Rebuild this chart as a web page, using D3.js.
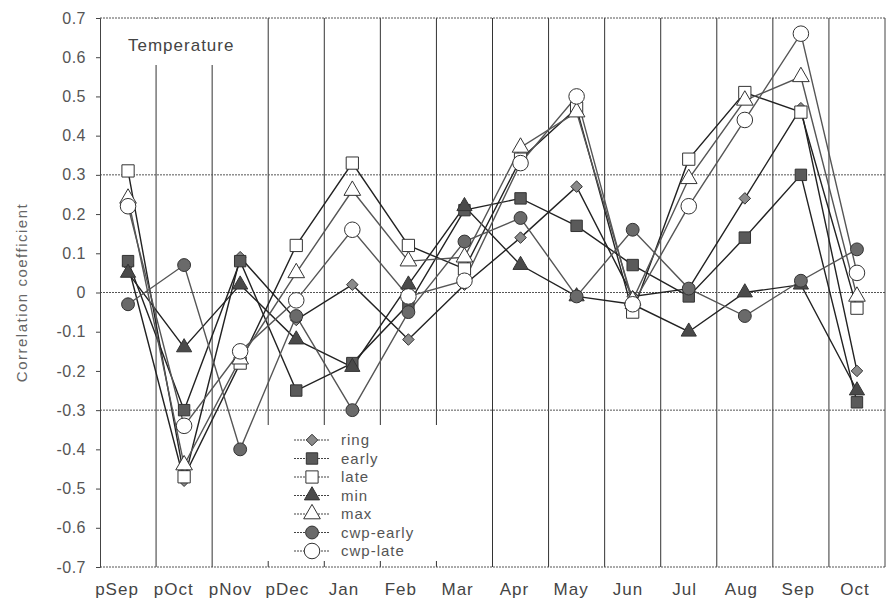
<!DOCTYPE html>
<html>
<head>
<meta charset="utf-8">
<script src="https://d3js.org/d3.v7.min.js"></script>
<style>
  body { margin: 0; background: #fff; }
  text { font-family: "Liberation Sans", Arial, sans-serif; }
</style>
</head>
<body>
<div id="chart"></div>
<script>

const months = ["pSep","pOct","pNov","pDec","Jan","Feb","Mar","Apr","May","Jun","Jul","Aug","Sep","Oct"];

const ring     = [0.07,-0.48, 0.09,-0.07, 0.02,-0.12, 0.02, 0.14, 0.27,-0.01, 0.01, 0.24, 0.47,-0.20];
const early    = [0.08,-0.30, 0.08,-0.25,-0.18,-0.03, 0.21, 0.24, 0.17, 0.07,-0.01, 0.14, 0.30,-0.28];
const late     = [0.31,-0.47,-0.18, 0.12, 0.33, 0.12, 0.06, 0.34, 0.47,-0.05, 0.34, 0.51, 0.46,-0.04];
const tmin     = [0.05,-0.14, 0.02,-0.12,-0.19, 0.02, 0.22, 0.07,-0.01,-0.03,-0.10, 0.00, 0.02,-0.25];
const tmax     = [0.24,-0.44,-0.17, 0.05, 0.26, 0.08, 0.09, 0.37, 0.46,-0.02, 0.29, 0.49, 0.55,-0.01];
const cwpEarly = [-0.03,0.07,-0.40,-0.06,-0.30,-0.05, 0.13, 0.19,-0.01, 0.16, 0.01,-0.06, 0.03, 0.11];
const cwpLate  = [0.22,-0.34,-0.15,-0.02, 0.16,-0.01, 0.03, 0.33, 0.50,-0.03, 0.22, 0.44, 0.66, 0.05];

const seriesNames = ["ring","early","late","min","max","cwp-early","cwp-late"];
const yTicks = d3.range(-7, 8).map(d => d / 10);
const gridValues = [-0.3, 0, 0.3];

// marker look for each series
const styles = {
  "ring":      {sym: d3.symbolDiamond2, size: 85,  fill: "#8a8a8a"},
  "early":     {sym: d3.symbolSquare,   size: 130, fill: "#5a5a5a"},
  "late":      {sym: d3.symbolSquare,   size: 150, fill: "#fff"},
  "min":       {sym: d3.symbolTriangle, size: 100, fill: "#4a4a4a"},
  "max":       {sym: d3.symbolTriangle, size: 120, fill: "#fff"},
  "cwp-early": {sym: d3.symbolCircle,   size: 130, fill: "#6a6a6a"},
  "cwp-late":  {sym: d3.symbolCircle,   size: 190, fill: "#fff"}
};

const series = [ring, early, late, tmin, tmax, cwpEarly, cwpLate].map((vals, i) => ({
  name: seriesNames[i],
  values: vals.map((v, j) => ({m: months[j], v: v}))
}));

const w = 886, h = 604;
const pLeft = 100, pRight = 885, pTop = 18, pBottom = 567;

const svg = d3.select("#chart").append("svg")
  .attr("width", w)
  .attr("height", h);

const x = d3.scaleBand().domain(months).range([pLeft, pRight]).padding(0);
const y = d3.scaleLinear().domain([-0.7, 0.7]).range([pBottom, pTop]);
const xLabel = d3.scalePoint().domain(months).range([117, 855]);

// vertical grid lines on the month boundaries
svg.append("g")
  .selectAll("line")
  .data(months.slice(1))
  .join("line")
  .attr("x1", d => x(d)).attr("x2", d => x(d))
  .attr("y1", pTop).attr("y2", pBottom)
  .attr("stroke", "#333").attr("stroke-width", 1);

// dotted horizontal grid
svg.append("g")
  .selectAll("line")
  .data(gridValues)
  .join("line")
  .attr("x1", pLeft).attr("x2", pRight)
  .attr("y1", d => y(d)).attr("y2", d => y(d))
  .attr("stroke", "#555").attr("stroke-width", 1)
  .attr("stroke-dasharray", "2,1");

// frame
svg.append("line").attr("x1", pLeft).attr("x2", pRight).attr("y1", pTop).attr("y2", pTop)
  .attr("stroke", "#555").attr("stroke-dasharray", "2,1");
svg.append("line").attr("x1", pLeft).attr("x2", pRight).attr("y1", pBottom).attr("y2", pBottom)
  .attr("stroke", "#555").attr("stroke-dasharray", "2,1");
svg.append("line").attr("x1", pRight).attr("x2", pRight).attr("y1", pTop).attr("y2", pBottom)
  .attr("stroke", "#444");

// white boxes behind the title and legend
svg.append("rect").attr("x", pLeft + 1).attr("y", pTop + 1).attr("width", 160).attr("height", 46).attr("fill", "#fff");
svg.append("rect").attr("x", 262).attr("y", 425).attr("width", 228).attr("height", 136).attr("fill", "#fff");

// y axis
const fmt = d => d === 0 ? "0" : d3.format(".1f")(d).replace("\u2212", "-");
const yAxis = svg.append("g")
  .attr("transform", "translate(" + pLeft + ",0)")
  .call(d3.axisLeft(y).tickValues(yTicks).tickFormat(fmt).tickSize(4).tickPadding(10));
yAxis.select(".domain").attr("stroke", "#444");
yAxis.selectAll(".tick line").attr("stroke", "#444");
yAxis.selectAll("text").attr("font-size", 16).attr("fill", "#555")
  .style("font-family", "'Liberation Sans', Arial, sans-serif")
  .style("letter-spacing", "0.5px");

// x labels
svg.append("g")
  .selectAll("text")
  .data(months)
  .join("text")
  .attr("x", d => xLabel(d))
  .attr("y", 595)
  .attr("text-anchor", "middle")
  .attr("font-size", 17)
  .attr("fill", "#444")
  .style("letter-spacing", "1px")
  .text(d => d);

// y title
svg.append("text")
  .attr("transform", "translate(27," + y(0) + ") rotate(-90)")
  .attr("text-anchor", "middle")
  .attr("font-size", 15)
  .attr("fill", "#666")
  .style("letter-spacing", "1.5px")
  .text("Correlation coefficient");

svg.append("text")
  .attr("x", 128).attr("y", 51)
  .attr("font-size", 17)
  .attr("fill", "#444")
  .style("letter-spacing", "1px")
  .text("Temperature");

// series
const line = d3.line().x(d => x(d.m) + x.bandwidth() / 2).y(d => y(d.v));
const symbol = s => d3.symbol().type(styles[s].sym).size(styles[s].size)();

series.forEach(s => {
  svg.append("path")
    .datum(s.values)
    .attr("d", line)
    .attr("fill", "none")
    .attr("stroke", s.name.indexOf("cwp") === 0 || s.name === "max" ? "#555" : "#222")
    .attr("stroke-width", 1.4);
});

series.forEach(s => {
  svg.append("g")
    .selectAll("path")
    .data(s.values)
    .join("path")
    .attr("transform", d => "translate(" + (x(d.m) + x.bandwidth() / 2) + "," + y(d.v) + ")")
    .attr("d", symbol(s.name))
    .attr("fill", styles[s.name].fill)
    .attr("stroke", "#333")
    .attr("stroke-width", 1);
});

// legend
const legend = svg.append("g");
const rows = legend.selectAll("g")
  .data(seriesNames)
  .join("g")
  .attr("transform", (d, i) => "translate(0," + (440 + i * 18.5) + ")");
rows.append("line")
  .attr("x1", 294).attr("x2", 330)
  .attr("stroke", "#444").attr("stroke-width", 1.2)
  .attr("stroke-dasharray", "2,1");
rows.append("path")
  .attr("transform", "translate(312,0)")
  .attr("d", d => symbol(d))
  .attr("fill", d => styles[d].fill)
  .attr("stroke", "#333");
rows.append("text")
  .attr("x", 341).attr("y", 5)
  .attr("font-size", 15)
  .attr("fill", "#555")
  .style("letter-spacing", "1px")
  .text(d => d);

</script>
</body>
</html>
